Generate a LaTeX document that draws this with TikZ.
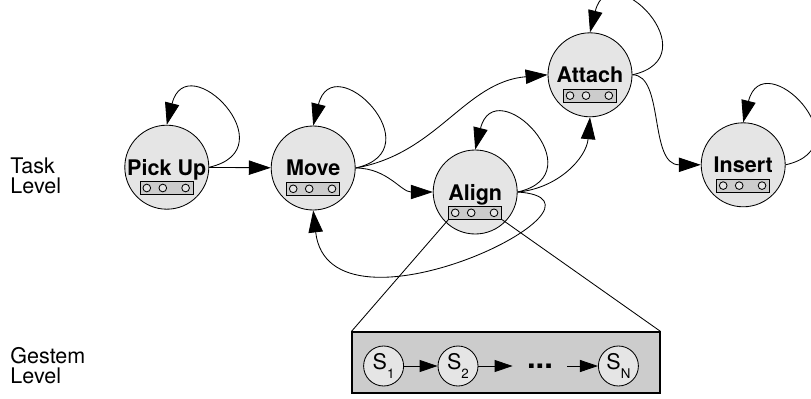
\documentclass[tikz,border=0pt]{standalone}
\usepackage{fontspec}
\setmainfont{TeX Gyre Heros}
\usetikzlibrary{arrows.meta, positioning, calc}
\definecolor{statefill}{RGB}{229,229,229}
\definecolor{slotfill}{RGB}{204,204,204}
\newcommand{\gsub}[1]{\raisebox{-0.4em}{\fontsize{9.5}{9.5}\selectfont #1}}

\begin{document}
\begin{tikzpicture}[line width=0.6pt,
        every node/.style={font=\fontsize{15.3}{14.2}\selectfont},
        state/.style={circle, draw, fill=statefill, minimum size=2.1cm, inner sep=0pt,
                      font=\fontsize{15.3}{14.2}\selectfont\bfseries, text depth=0pt},
        slots/.style={rectangle, draw, fill=slotfill, minimum width=1.32cm,
                      minimum height=0.32cm, inner sep=0pt},
        gstate/.style={circle, draw, fill=statefill, minimum size=1cm, inner sep=0pt},
        gestbox/.style={rectangle, draw, fill=slotfill, line width=0.8pt,
                        minimum width=7.7cm, minimum height=1.525cm},
        arr/.style={-{Triangle[length=0.55cm,width=0.36cm]}},
        sarr/.style={-{Triangle[length=0.45cm,width=0.3cm]}},
        lvl/.style={align=left, inner sep=0pt, anchor=west}
    ]
        \useasboundingbox (0,0) rectangle (20.275,9.95);

        % level labels
        \node[lvl] (task) at (0.25,5.56) {Task\\Level};
        \node[lvl] (gestem) at (0.25,0.81) {Gestem\\Level};

        % task level
        \node[state] (pickup) at (4.17,5.77)  {Pick Up};
        \node[state] (move)   at (7.83,5.75)  {Move};
        \node[state] (align)  at (11.88,5.15) {Align};
        \node[state] (attach) at (14.75,8.08) {Attach};
        \node[state] (insert) at (18.58,5.83) {Insert};

        \foreach \n in {pickup,move,align,attach,insert}{
            \node[slots] (\n-slots) at ([yshift=-0.52cm]\n.center) {};
            \foreach \dx in {-0.5,-0.1,0.47}
                \draw[fill=statefill] ([xshift=\dx cm]\n-slots.center) circle (0.096);
        }

        \draw[arr] (pickup) -- (move);
        \draw[arr] (move.east) to[out=10, in=185] (attach.west);
        \draw[arr] (move.east) to[out=0, in=180] (align.west);
        \draw[arr] (align.east) to[out=5, in=-95] (attach.south);
        \draw[arr] (align.east) .. controls +(3,-0.2) and +(0.4,-3.5) .. (move.south);
        \draw[arr] (attach.east) .. controls +(0.8,0) and +(-1.3,0) .. (insert.west);
        \foreach \n in {pickup,move,align,attach,insert}
            \draw[arr] (\n.east) .. controls +(2,0.45) and +(0.5,2) .. (\n.north);

        % gestem level
        \node[gestbox] (gest) at (12.65,0.8875) {};
        \draw (align-slots.south west) -- (gest.north west);
        \draw (align-slots.south east) -- (gest.north east);

        \node[gstate] (s1) at (9.59,0.8)  {S\gsub{1}};
        \node[gstate] (s2) at (11.45,0.8) {S\gsub{2}};
        \node[inner sep=0pt, minimum width=1.35cm, font=\fontsize{22}{22}\selectfont\bfseries]
            (dots) at (13.5,0.8) {...};
        \node[gstate] (sn) at (15.46,0.8) {S\gsub{N}};

        \draw[sarr] (s1) -- (s2);
        \draw[sarr] (s2) -- (dots);
        \draw[sarr] (dots) -- (sn);
    \end{tikzpicture}
\end{document}
